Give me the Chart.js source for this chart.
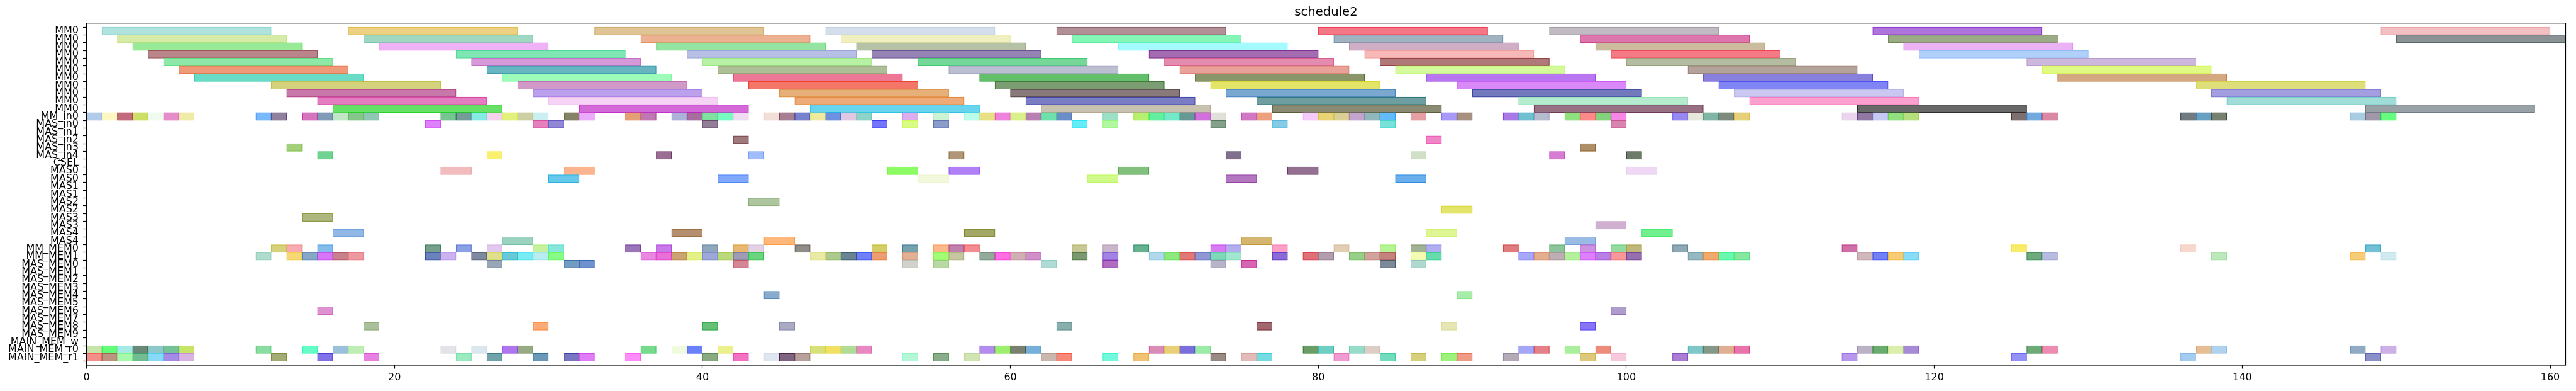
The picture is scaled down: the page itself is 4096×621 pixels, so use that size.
<!DOCTYPE html>
<html><head><meta charset="utf-8">
<script src="https://cdn.jsdelivr.net/npm/chart.js@4.4.0/dist/chart.umd.min.js"></script>
<style>html,body{margin:0;padding:0;background:#fff;overflow:hidden}canvas{display:block}</style>
</head><body>
<canvas id="c" width="4096" height="621" style="width:4096px;height:621px"></canvas>
<script>
const chartTitle = 'schedule2';
const rowLabels = ['MM0','MM0','MM0','MM0','MM0','MM0','MM0','MM0','MM0','MM0','MM0',
  'MM_in0','MAS_in0','MAS_in1','MAS_in2','MAS_in3','MAS_in4','CSEL',
  'MAS0','MAS0','MAS1','MAS1','MAS2','MAS2','MAS3','MAS3','MAS4','MAS4',
  'MM_MEM0','MM_MEM1','MAS_MEM0','MAS_MEM1','MAS_MEM2','MAS_MEM3','MAS_MEM4',
  'MAS_MEM5','MAS_MEM6','MAS_MEM7','MAS_MEM8','MAS_MEM9','MAIN_MEM_w','MAIN_MEM_r0','MAIN_MEM_r1'];
const xTicks = [0,20,40,60,80,100,120,140,160];

// [start, end] per bar, one list per row
const mm0Rows = [
 [[1,12],[17,28],[33,44],[48,59],[63,74],[80,91],[95,106],[116,127],[149,160]],
 [[2,13],[18,29],[36,47],[49,60],[64,75],[81,92],[97,108],[117,128],[150,161]],
 [[3,14],[19,30],[37,48],[50,61],[67,78],[82,93],[98,109],[118,129]],
 [[4,15],[24,35],[39,50],[51,62],[69,80],[83,94],[99,110],[119,130]],
 [[5,16],[25,36],[40,51],[54,65],[70,81],[84,95],[100,111],[126,137]],
 [[6,17],[26,37],[41,52],[56,67],[71,82],[85,96],[104,115],[127,138]],
 [[7,18],[27,38],[42,53],[58,69],[72,83],[87,98],[105,116],[128,139]],
 [[12,23],[28,39],[43,54],[59,70],[73,84],[89,100],[106,117],[137,148]],
 [[13,24],[29,40],[45,56],[60,71],[74,85],[90,101],[107,118],[138,149]],
 [[15,26],[30,41],[46,57],[61,72],[76,87],[93,104],[108,119],[139,150]],
 [[16,27],[32,43],[47,58],[62,73],[77,88],[94,105],[115,126],[148,159]]
];
const mmIn0 = [[0,1],[1,2],[2,3],[3,4],[4,5],[5,6],[6,7],[11,12],[12,13],[14,15],[15,16],[16,17],[17,18],[18,19],
 [23,24],[24,25],[25,26],[26,27],[27,28],[28,29],[29,30],[31,32],[32,33],[35,36],[36,37],
 [38,39],[39,40],[40,41],[41,42],[42,43],[44,45],[45,46],[46,47],[47,48],[48,49],[49,50],[50,51],
 [53,54],[55,56],[57,58],[58,59],[59,60],[60,61],[61,62],[62,63],[63,64],[66,67],[68,69],
 [69,70],[70,71],[71,72],[72,73],[73,74],[75,76],[76,77],[79,80],[80,81],[81,82],[82,83],[83,84],[84,85],[86,87],[88,89],[89,90],
 [92,93],[93,94],[94,95],[96,97],[97,98],[98,99],[99,100],[103,104],[104,105],[105,106],[106,107],[107,108],[114,115],[115,116],
 [116,117],[117,118],[118,119],[125,126],[126,127],[127,128],[136,137],[137,138],[138,139],
 [147,148],[148,149],[149,150]];
const masInRows = [
 [[22,23],[29,30],[30,31],[40,41],[51,52],[53,54],[55,56],[64,65],[66,67],[73,74],[77,78],[84,85],[99,100]],
 [],
 [[42,43],[87,88]],
 [[13,14],[97,98]],
 [[15,16],[26,27],[37,38],[43,44],[56,57],[74,75],[86,87],[95,96],[100,101]]
];
const csel = [];
const masRows = [
 [[23,25],[31,33],[52,54],[56,58],[67,69],[78,80],[100,102]],
 [[30,32],[41,43],[54,56],[65,67],[74,76],[85,87]],
 [],
 [],
 [[43,45]],
 [[88,90]],
 [[14,16]],
 [[98,100]],
 [[16,18],[38,40],[57,59],[87,89],[101,103]],
 [[27,29],[44,46],[75,77],[96,98]]
];
const mmMemRows = [
 [[12,13],[13,14],[15,16],[22,23],[24,25],[26,27],[29,30],[30,31],[35,36],[37,38],[40,41],[42,43],[43,44],
  [46,47],[51,52],[53,54],[55,56],[56,57],[57,58],[64,65],[66,67],[68,69],[73,74],[74,75],[77,78],[81,82],
  [84,85],[86,87],[87,88],[92,93],[95,96],[97,98],[99,100],[100,101],[103,104],[114,115],[125,126],[136,137],[148,149]],
 [[11,12],[13,14],[14,15],[15,16],[16,17],[17,18],
  [22,23],[23,24],[25,26],[26,27],[27,28],[28,29],[29,30],[30,31],
  [36,37],[37,38],[38,39],[39,40],[40,41],[41,42],[42,43],[43,44],
  [47,48],[48,49],[49,50],[50,51],[51,52],[53,54],[55,56],[56,57],[58,59],[59,60],[60,61],[61,62],[64,65],[66,67],
  [69,70],[70,71],[71,72],[72,73],[73,74],[74,75],[77,78],[79,80],[80,81],[82,83],[83,84],[84,85],[86,87],[87,88],
  [93,94],[94,95],[95,96],[96,97],[97,98],[98,99],[99,100],[100,101],[104,105],[105,106],[106,107],[107,108],
  [115,116],[116,117],[117,118],[118,119],[126,127],[127,128],[138,139],
  [147,148],[149,150]]
];
const masMemRows = [
 [[26,27],[31,32],[32,33],[42,43],[53,54],[55,56],[62,63],[66,67],[73,74],[75,76],[84,85],[86,87]],
 [],
 [],
 [],
 [[44,45],[89,90]],
 [],
 [[15,16],[99,100]],
 [],
 [[18,19],[29,30],[40,41],[45,46],[63,64],[76,77],[88,89],[97,98]],
 []
];
const mainMemW = [];
const mainMemRRows = [
 [[0,1],[1,2],[2,3],[3,4],[4,5],[5,6],[6,7],[11,12],[14,15],[16,17],[17,18],[23,24],[25,26],[27,28],[28,29],
  [36,37],[38,39],[39,40],[41,42],[47,48],[48,49],[49,50],[50,51],[58,59],[59,60],[60,61],[61,62],
  [69,70],[70,71],[71,72],[72,73],[79,80],[80,81],[82,83],[83,84],[93,94],[94,95],[96,97],[98,99],
  [104,105],[105,106],[106,107],[107,108],[115,116],[116,117],[117,118],[118,119],[126,127],[127,128],
  [137,138],[138,139],[147,148],[149,150]],
 [[0,1],[1,2],[2,3],[3,4],[4,5],[5,6],[6,7],[12,13],[15,16],[18,19],
  [24,25],[26,27],[29,30],[31,32],[32,33],[35,36],[40,41],[42,43],[44,45],[45,46],
  [46,47],[53,54],[55,56],[57,58],[62,63],[63,64],[66,67],[68,69],
  [73,74],[75,76],[76,77],[81,82],[84,85],[86,87],[88,89],[89,90],
  [92,93],[97,98],[99,100],[103,104],[114,115],[125,126],[136,137],[148,149]]
];

// styles: apparent fill colour of each bar, same order as above
const mm0Colors = [
 'b0e2de ecd083 dfc596 d5dfec b09096 f47788 c0bac2 b075dc f2c0c3',
 'd6eba8 a0d8c2 ecb191 efefc0 86f5b8 a1b2c1 de76ae 9aab86 8a9296',
 '98ea98 f0b2f6 96e4a2 b6c2a6 a4fafc d0afc6 cbbca0 ecb2f6',
 'b9858b 80e6b4 b8bfe4 9584b4 a36cb0 f6b9b8 f47b86 b0d0fa',
 '8ee8a8 d499d6 b8f0a6 76d898 e48caf b07878 b4bca2 ccb8dc',
 'ee9a78 68b4c0 aebf98 bcbed2 e8a29a d4fa9c b4a39a e0fa84',
 '6adbc6 9efcba ec7896 64bf6a 8a966a b877f0 8880dc d4a880',
 'd4d27c d099c8 f47668 7a9e72 e4e468 d98af8 8084f4 dede7a',
 'c878a8 bba0ec e6b078 887a7a 7aa8d0 7279bc cac8f0 a29ee0',
 'e47cc0 f6d2f4 eeaa78 7a7cc4 6e9ea0 b6ecce fca0d0 a0dcd8',
 '66e066 d46ad8 68d4ee c9c2b0 8a8a72 987084 686868 98a2a6'
];
const mmIn0Colors = 'b3cbeb fdf8c3 c26a7c cce068 f0fbf0 e68cc8 f0eca8 78b8fc 917f9e d674c0 7f9bb6 c0e6c6 86c68a 90c6b4 ' +
 '76c492 769c9a 86eae4 f6d2ec e2f07e cfcfa6 cceff2 848366 ecaafc e4a074 c078b2 ' +
 'adb2da a86c9e 80e0a0 76fcc0 f0dcf0 f2dfd6 a68092 7682cc eeea9e 6e90de e0c8e2 8cd4c8 ' +
 'dcaeee ccf4d4 bcfcec e8e084 ee82dc daf08c b880b2 6ee0aa 6a8ec8 9ee0c6 b6f06e ' +
 '62f0a0 74e8c8 689896 d270dc e0e0d8 d078c4 eca07e f6cafc e8d474 dad096 c2a4cc 90b8bc 62bcfc e4a0a2 a898f8 a89080 ' +
 'a878e4 70c0d0 b6bcd0 90e27e fc8a8a 84d27c f886e6 9888f4 e6e8dc 80b4a4 7e8a7c e6d07a ead6ec 9078a4 ' +
 'c4caf4 90e080 b6e07e 7e7070 72aade da88a4 707a80 68a0c4 768070 a8cce2 9e98aa 66fc80';
const masInColors = [
 'de80fa e480bc 9088d4 927e96 7474fc dafc84 8c9cc8 66ecf6 b2f8a0 84a08a 84cce6 78e2d8 d884ae',
 '',
 '9e7a7c f086c8',
 'a4d07c ae9068',
 '72d290 faf070 9a6e92 a0bcfc ae9676 80708e d0e0c6 d67cd4 6c7c68'
];
const cselColors = '';
const masColors = [
 'f2bcbe fcb48e 8cfc64 b080f6 82c07e 947090 eed8f4',
 '66c8ea 80a8fc f2f8dc d0fa8a b478c0 6aaeec',
 '', '',
 'aec6a0', 'e4e46a', 'aeb87e', 'd0b0d0',
 '92b8e6 b4906e a4a866 def594 72f090',
 '9cd2c0 ffb87a d4b670 9abce4'
];
const mmMemColors = [
 'd6d27a f8acb2 84bcec 76a08c 8aa0e4 e2c8ee c6f2a0 88e6da 9c74b8 c87ae8 90a8bc e6b870 e2d2e4 ' +
 '908c88 d4ce64 76a2b0 fcb88a c280ac f28c90 c8c894 cab6ca 66b290 d87cf4 b4aeee fca0c6 e2ceb4 ' +
 'b4f494 a2b294 b0aef0 e07c80 8cc49c cc94e0 92dca0 c0b878 8ea8b4 d070a8 f8ec6c f8d8cc 72c0d4',
 'b0dcce f6d874 86a8c6 d676f6 c8808a ec9aa0 6c82bc ccb2ee 808a9e e0e08c 68cad8 78ecf2 b8ecf0 88fc88 ' +
 'e888e0 e870d8 cca472 e2f288 9ea8d8 bcd87c 9e9cb4 6ad480 ' +
 'eaeaa6 aeca8e 6a8494 7080f6 ec9e70 e2b096 a2fc76 c6c6a0 94aa9a ff6ee2 d0b0b4 d090ca 7a9870 a282e2 ' +
 'b0d8ea 8ee880 e07878 9098d4 80d8b8 a2e6d0 8a6ad4 e07078 b29eac 98d08a d0a49c c4827c f4fcb4 66dcac ' +
 'a8a8fa e4ae90 bcaeb2 b4f09e dc80fc b880e4 f89898 9670ae 96b8c0 f0aa6e 6af8ae 84e8a0 ' +
 'd0b8bc 7280f6 f6cc74 88dcf6 6eaa7e b8bcde bce8bc f6cc78 d0eaf0'
];
const masMemColors = [
 '98a6b6 729cc0 7092cc d48694 d0d2cc b8d8a4 b0dad6 b06cc0 b8b4c8 d864b4 7c8a98 aed8d0',
 '', '', '',
 '8aaccc a8ecaa',
 '',
 'de92d2 b09ccc',
 '',
 'aac09c fcaa76 66c078 aaaac4 8aaeac a26870 e6e6b4 8676f6',
 ''
];
const mainMemWColors = '';
const mainMemRColors = [
 'c8e4aa 64fc7a a6eae6 6a8878 8ec8c8 74c296 c8e466 8adca0 66fcc8 9ac0dc beeeb4 e2e4e8 dae8ee ae76ee 98aa84 ' +
 '76da8c f0fadc 6a80f8 eaf08e d8e07a f2e064 b0dc98 e888c0 b48cee 9cf06e 7a8070 74b0da ' +
 'd88cb6 e8d078 7a6edc 9ceaa8 6a9e66 6ecec4 96dcc8 dccec4 a6a6f8 e48088 aaf09c ee8c7c ' +
 '80c8c8 869888 e0ae92 e874ac bcb2c6 6aac6e dceeac a68ad6 6eaa78 ec8cb0 e6be94 b0d2ec 90aac4 ccb0e6',
 'f48e8a bc9482 a6f8aa 72bc92 86daf8 a48ce6 d8b2e2 a4ac76 8272e8 e882e2 ' +
 '9ceac0 70a4aa 6c98b8 7876c0 e07cf6 ff8cf8 8aaa82 f472c4 e0e6f0 7e6480 ' +
 'b8a09c b4f8d8 8aae8a d0e4b4 cab8b0 f88878 72f8dc f0c474 ' +
 '9a8a84 e2bcb8 74dce2 ee9cd2 72dcbc d6d07c 9ef27c ee9c88 ' +
 'b4aab8 dec87c f8c8dc a97ed4 b898ec 9494f8 a6ccf0 8c90c8'
];

// ---- assemble ----
const allRows = [...mm0Rows, mmIn0, ...masInRows, csel, ...masRows, ...mmMemRows, ...masMemRows, mainMemW, ...mainMemRRows];
const allColors = [...mm0Colors, mmIn0Colors, ...masInColors, cselColors, ...masColors, ...mmMemColors, ...masMemColors, mainMemWColors, ...mainMemRColors]
  .map(s => s.trim() ? s.trim().split(/\s+/) : []);

function hexToRgb(h){ return [parseInt(h.slice(0,2),16), parseInt(h.slice(2,4),16), parseInt(h.slice(4,6),16)]; }
function edgeOf(rgb){ return rgb.map(v => Math.max(0, Math.min(255, Math.round(1.4*v - 102)))); }
const points = [], fills = [], edges = [];
allRows.forEach((bars, r) => {
  bars.forEach((b, i) => {
    const hex = (allColors[r] && allColors[r][i]) || '999999';
    const rgb = hexToRgb(hex);
    points.push({x: [b[0], b[1]], y: r});
    fills.push('rgb(' + rgb.join(',') + ')');
    edges.push('rgb(' + edgeOf(rgb).join(',') + ')');
  });
});

const S = 0.588;
const FONT = 'DejaVu Sans';
const framePlugin = {
  id: 'frame',
  afterDatasetsDraw(chart) {
    const {ctx, chartArea: a} = chart;
    ctx.save();
    ctx.strokeStyle = '#000';
    ctx.lineWidth = 1.2;
    ctx.strokeRect(a.left, a.top, a.right - a.left, a.bottom - a.top);
    ctx.restore();
  }
};

new Chart(document.getElementById('c').getContext('2d'), {
  type: 'bar',
  data: {
    datasets: [{
      data: points,
      backgroundColor: fills,
      borderColor: edges,
      borderWidth: 1.2,
      borderSkipped: false,
      categoryPercentage: 1,
      barPercentage: 1,
      grouped: false
    }]
  },
  options: {
    indexAxis: 'y',
    responsive: false,
    animation: false,
    devicePixelRatio: 1,
    layout: { padding: { left: 0, right: 16.5, top: 0, bottom: 0 } },
    plugins: {
      legend: { display: false },
      tooltip: { enabled: false },
      title: {
        display: true, text: chartTitle, fullSize: false, color: '#000',
        font: { family: FONT, size: 19.6, weight: 'normal', lineHeight: 1.2 },
        padding: { top: 8.3, bottom: 4.9 }
      }
    },
    scales: {
      x: {
        type: 'linear', position: 'bottom', min: 0, max: 161, bounds: 'data',
        afterBuildTicks: s => { s.ticks = xTicks.map(v => ({ value: v })); },
        afterFit: s => { s.height = 41; s.paddingLeft = 0; s.paddingRight = 0; },
        ticks: { color: '#000', font: { family: FONT, size: 16 }, padding: 5, maxRotation: 0, autoSkip: false },
        grid: { drawOnChartArea: false, drawTicks: true, tickLength: 5.5, tickColor: '#000', tickWidth: 1.2 },
        border: { display: false }
      },
      y: {
        type: 'linear', min: -0.5, max: 42.5, reverse: true, bounds: 'data',
        afterBuildTicks: s => { s.ticks = rowLabels.map((_, i) => ({ value: i })); },
        afterFit: s => { s.width = 137.5; s.paddingTop = 0; s.paddingBottom = 0; },
        ticks: { color: '#000', font: { family: FONT, size: 16 }, padding: 7, autoSkip: false,
          callback: v => rowLabels[v] },
        grid: { drawOnChartArea: false, drawTicks: true, tickLength: 5.5, tickColor: '#000', tickWidth: 1.2 },
        border: { display: false }
      }
    }
  },
  plugins: [framePlugin]
});
</script>
</body></html>
